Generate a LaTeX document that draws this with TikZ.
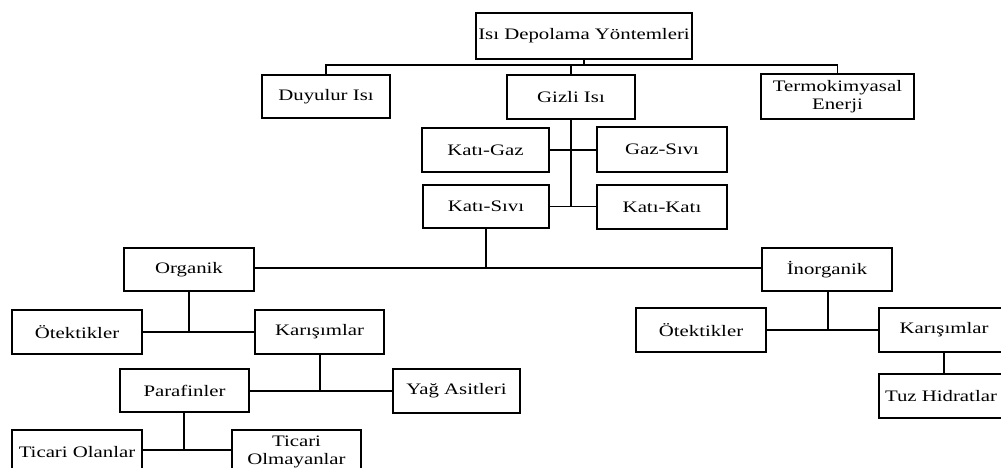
\documentclass[tikz,border=0pt]{standalone}
\usepackage{fontspec}
\setmainfont{Liberation Serif}[FakeStretch=1.3]
\begin{document}
\begin{tikzpicture}[x=1pt,y=-1pt,
  box/.style={draw=black, line width=1.5pt, fill=white, inner sep=0pt,
    minimum width=128pt, minimum height=44pt, align=center,
    font=\fontsize{16}{16}\selectfont},
  vline/.style={draw=black, line width=2.2pt},
  hline/.style={draw=black, line width=1.3pt}]
\useasboundingbox (0,0) rectangle (1001,468);
\clip (0,0) rectangle (1001,468);
\fill[white] (0,0) rectangle (1001,468);
% nodes
\node[box, minimum width=216pt, minimum height=46pt] (top) at (584,36) {Isı Depolama Yöntemleri};
\node[box, minimum height=43pt] (duy) at (326,96.5) {Duyulur Isı};
\node[box] (gizli) at (571,97) {Gizli Isı};
\node[box, minimum width=153pt, minimum height=45pt] (termo) at (837.5,96.5) {Termokimyasal\\[1.5pt]Enerji};
\node[box, minimum width=127pt] (katigaz) at (485.5,150) {Katı-Gaz};
\node[box, minimum width=130pt, minimum height=45pt] (gazsivi) at (662,149.5) {Gaz-Sıvı};
\node[box, minimum width=126pt, minimum height=43pt] (katisivi) at (486,206.5) {Katı-Sıvı};
\node[box, minimum width=130pt] (katikati) at (662,207) {Katı-Katı};
\node[box, minimum width=130pt, minimum height=43pt] (org) at (189,269.5) {Organik};
\node[box, minimum width=130pt, minimum height=43pt] (inorg) at (827,269.5) {İnorganik};
\node[box, minimum width=130pt] (otekL) at (77,332) {Ötektikler};
\node[box, minimum width=129pt] (karL) at (319.5,332) {Karışımlar};
\node[box, minimum width=130pt] (otekR) at (701,330) {Ötektikler};
\node[box, minimum width=130pt] (karR) at (944,330) {Karışımlar};
\node[box, minimum width=129pt, minimum height=43pt] (paraf) at (184.5,390.5) {Parafinler};
\node[box, minimum width=127pt] (yag) at (456.5,391) {Yağ Asitleri};
\node[box, minimum width=130pt] (tuz) at (944,396) {\hspace*{-3pt}Tuz Hidratlar\hspace*{3pt}};
\node[box, minimum width=130pt] (ticol) at (77,452) {Ticari Olanlar};
\node[box, minimum width=129pt] (ticolm) at (296.5,452) {Ticari\\[2.5pt]Olmayanlar};
% connector points
\coordinate (b1) at (584,65);
\coordinate (b2) at (486,268);
\coordinate (b3) at (189,332);
\coordinate (b4) at (320,391);
\coordinate (b5) at (184,450);
\coordinate (b6) at (828,330);
% level 1
\draw[vline] (top.south) -- (b1);
\draw[hline] (duy.north) |- (b1) -| (termo.north);
\draw[vline] (gizli.north) -- (gizli.north |- b1);
% Gizli Isi
\draw[vline] (gizli.south) -- (gizli.south |- katisivi.east);
\draw[hline] (katigaz.east) -- (katigaz.east -| gazsivi.west);
\draw[hline] (katisivi.east) -- (katisivi.east -| katikati.west);
% Kati-Sivi
\draw[vline] (katisivi.south) -- (b2);
\draw[hline] (org.east |- b2) -- (inorg.west |- b2);
% Organik
\draw[vline] (org.south) -- (b3);
\draw[hline] (otekL.east |- b3) -- (karL.west |- b3);
\draw[vline] (karL.south -| b4) -- (b4);
\draw[hline] (paraf.east |- b4) -- (yag.west |- b4);
\draw[vline] (paraf.south -| b5) -- (b5);
\draw[hline] (ticol.east |- b5) -- (ticolm.west |- b5);
% Inorganik
\draw[vline] (inorg.south -| b6) -- (b6);
\draw[hline] (otekR.east |- b6) -- (karR.west |- b6);
\draw[vline] (karR.south) -- (tuz.north);
\end{tikzpicture}
\end{document}
